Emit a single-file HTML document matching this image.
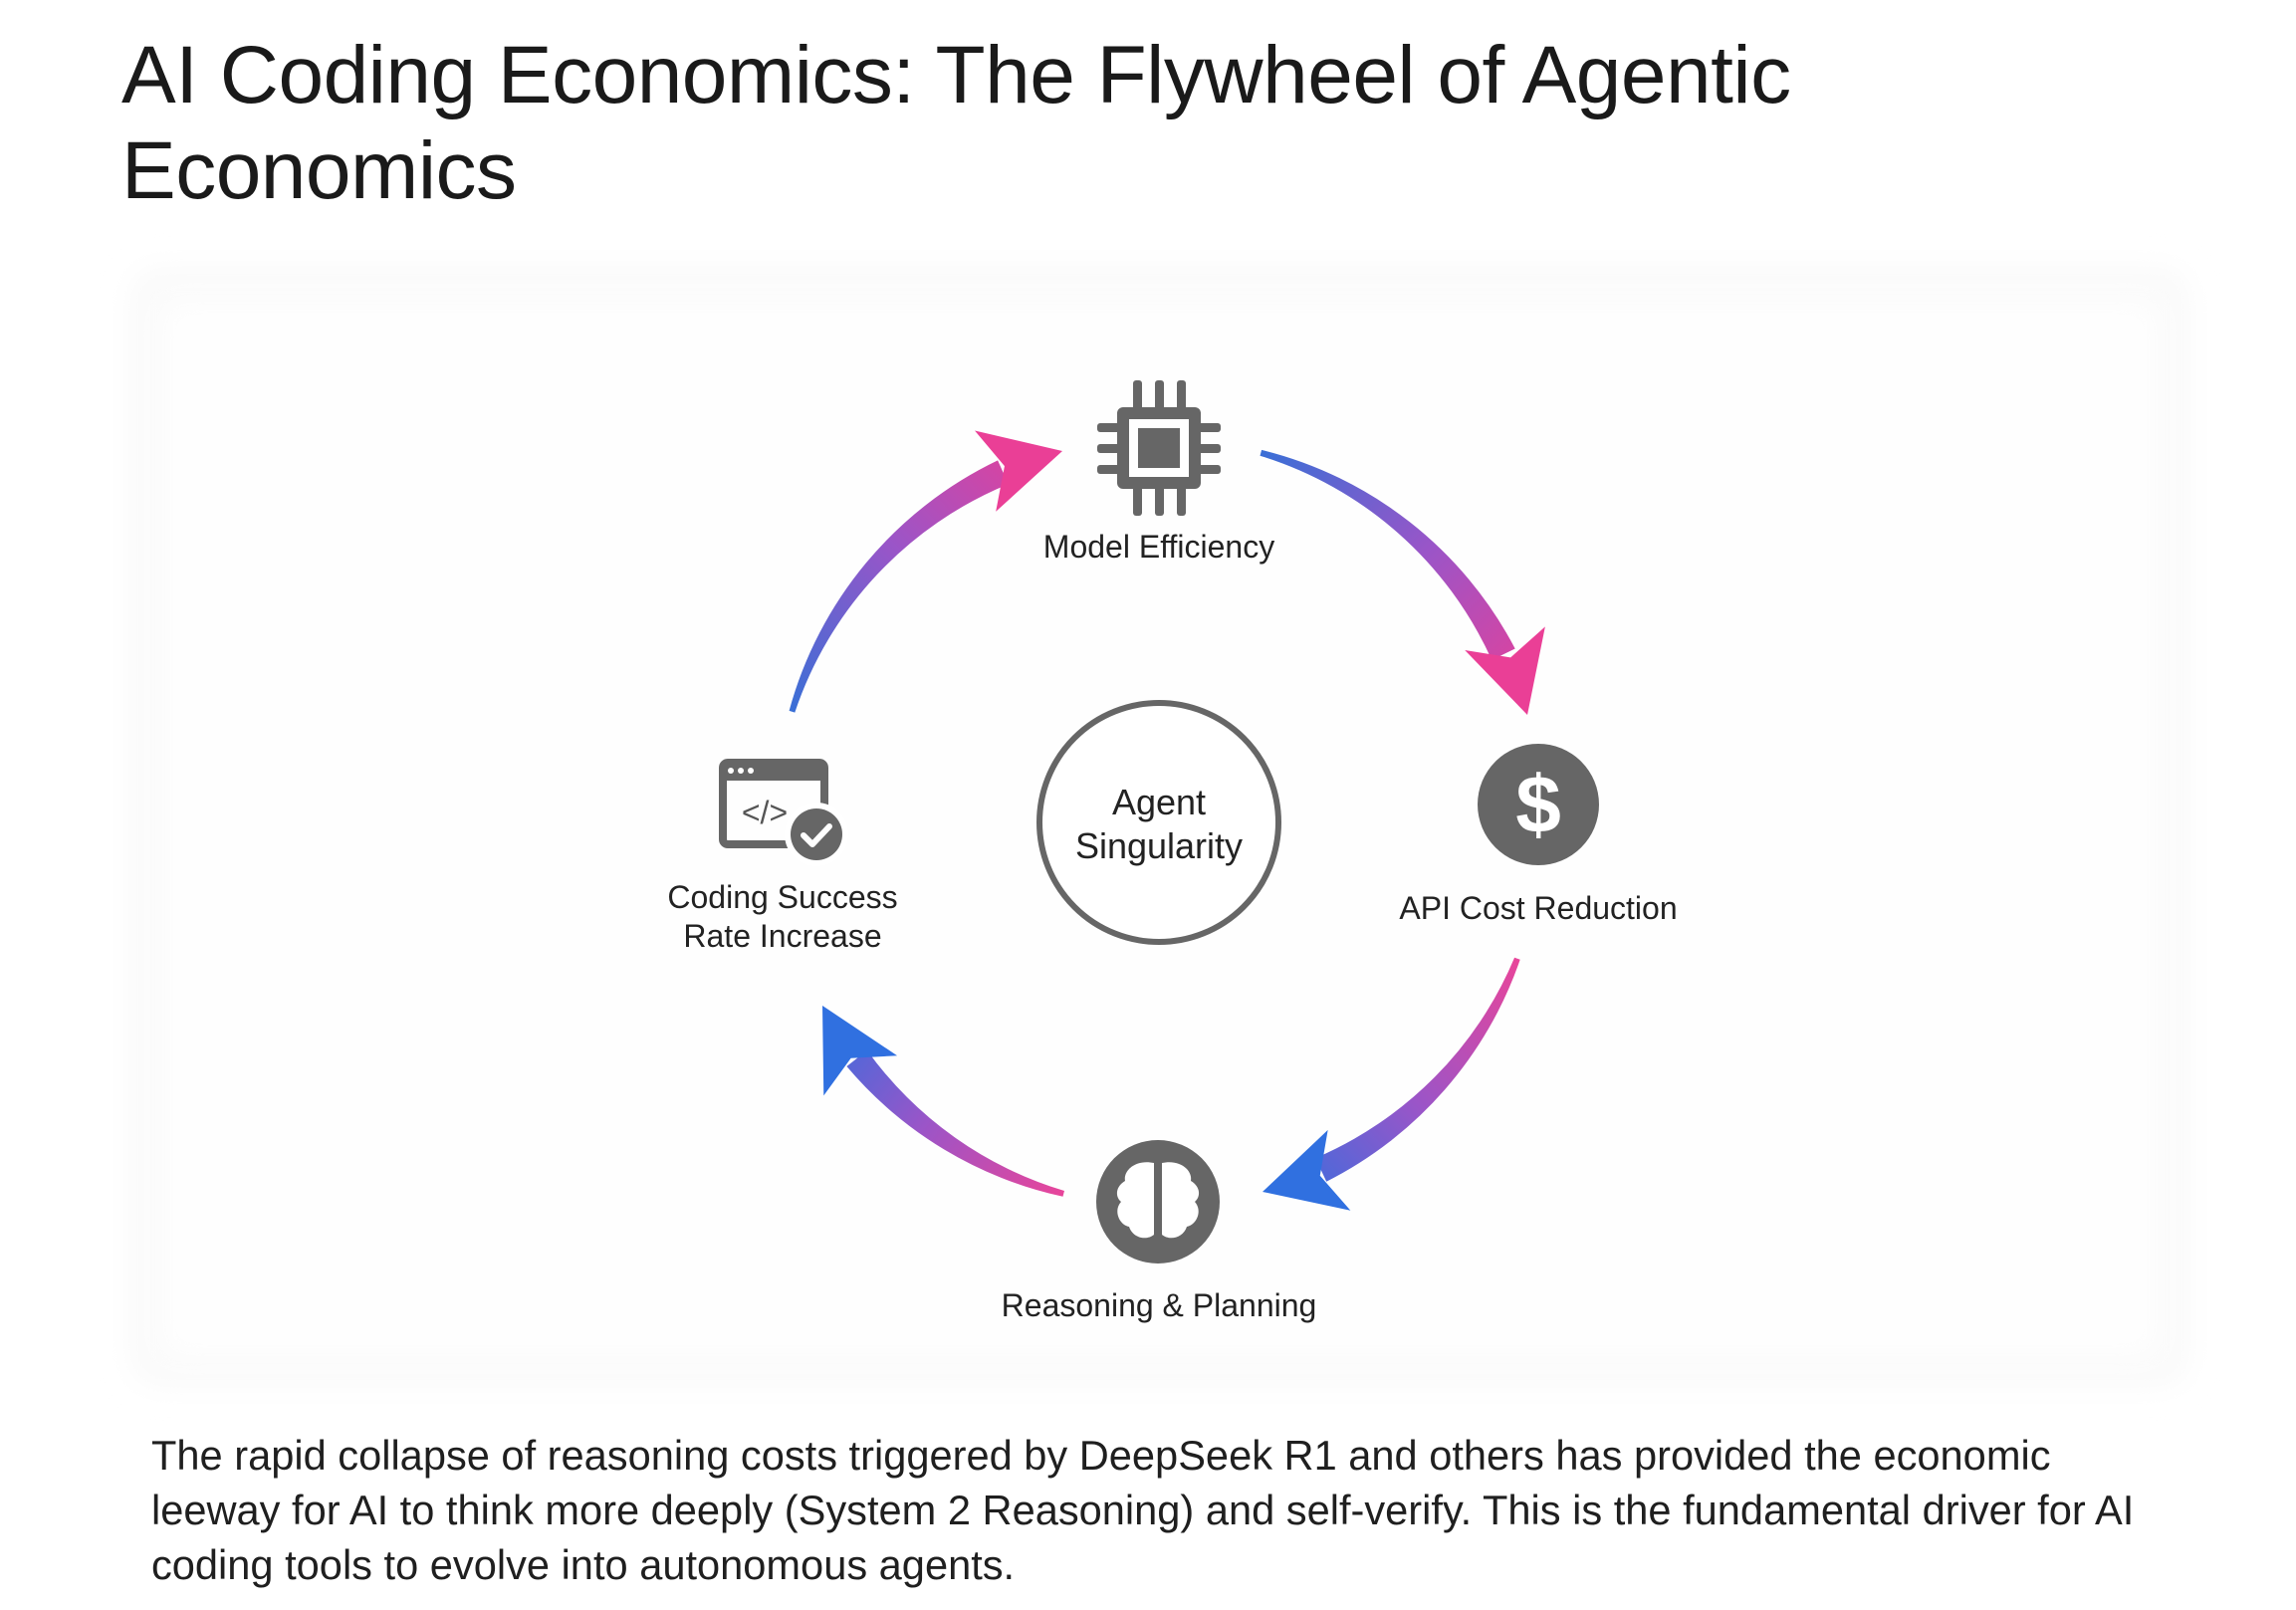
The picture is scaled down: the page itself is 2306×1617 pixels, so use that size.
<!DOCTYPE html>
<html><head><meta charset="utf-8"><style>
html,body{margin:0;padding:0;background:#fff;}
body{width:2306px;height:1617px;position:relative;overflow:hidden;font-family:"Liberation Sans",sans-serif;color:#1f1f1f;}
.title{position:absolute;left:122px;top:28px;font-size:82px;line-height:96px;letter-spacing:-0.5px;color:#1a1a1a;}
.para{position:absolute;left:152px;top:1434px;font-size:41.6px;line-height:55px;color:#1f1f1f;}
svg{position:absolute;left:0;top:0;}
</style></head><body>
<div class="title">AI Coding Economics: The Flywheel of Agentic<br>Economics</div>
<svg width="2306" height="1617" viewBox="0 0 2306 1617">
<defs>
<filter id="bl"><feGaussianBlur stdDeviation="14"/></filter>
<linearGradient id="g1" gradientUnits="userSpaceOnUse" x1="796" y1="715" x2="1067" y2="453"><stop offset="0" stop-color="#3a6fd6"/><stop offset="0.5" stop-color="#9a55c8"/><stop offset="1" stop-color="#ea3f96"/></linearGradient>
<linearGradient id="g2" gradientUnits="userSpaceOnUse" x1="1266" y1="455" x2="1534" y2="718"><stop offset="0" stop-color="#3a6fd6"/><stop offset="0.5" stop-color="#9a55c8"/><stop offset="1" stop-color="#ea3f96"/></linearGradient>
<linearGradient id="g3" gradientUnits="userSpaceOnUse" x1="1524" y1="963" x2="1268" y2="1197"><stop offset="0" stop-color="#e8459a"/><stop offset="0.5" stop-color="#9a55c8"/><stop offset="1" stop-color="#3070e0"/></linearGradient>
<linearGradient id="g4" gradientUnits="userSpaceOnUse" x1="1068" y1="1199" x2="826" y2="1010"><stop offset="0" stop-color="#e8459a"/><stop offset="0.5" stop-color="#9a55c8"/><stop offset="1" stop-color="#3070e0"/></linearGradient>
</defs>
<rect x="130" y="268" width="2070" height="1125" rx="30" fill="#fafafa" filter="url(#bl)"/>
<rect x="160" y="300" width="2010" height="1065" rx="20" fill="#fefefe" filter="url(#bl)"/>

<!-- tapered arcs -->
<path d="M792.6 713.9 A393 393 0 0 1 1002.1 462.4 L1012.7 486.2 A377 377 0 0 0 798.3 715.6 Z" fill="url(#g1)"/>
<path d="M1267.1 451.9 A393 393 0 0 1 1521.7 651.5 L1498.3 662.9 A377 377 0 0 0 1265.5 457.7 Z" fill="url(#g2)"/>
<path d="M1526.7 963.8 A393 393 0 0 1 1332.2 1186.7 L1321.2 1163.1 A377 377 0 0 0 1521.1 961.7 Z" fill="url(#g3)"/>
<path d="M1067.5 1201.8 A393 393 0 0 1 850.4 1071.0 L870.9 1055.0 A377 377 0 0 0 1069.0 1196.0 Z" fill="url(#g4)"/>
<polygon points="0,0 -80,-42 -60,0 -80,42" fill="#ea3f96" transform="translate(1067,453) rotate(-14.6)"/>
<polygon points="0,0 -80,-42 -60,0 -80,42" fill="#ea3f96" transform="translate(1534,718) rotate(73.7)"/>
<polygon points="0,0 -80,-42 -60,0 -80,42" fill="#3070e0" transform="translate(1268,1197) rotate(164.3)"/>
<polygon points="0,0 -80,-42 -60,0 -80,42" fill="#3070e0" transform="translate(826,1010) rotate(241.5)"/>

<!-- center circle -->
<circle cx="1164" cy="826" r="120" fill="#fff" stroke="#666" stroke-width="6"/>
<text x="1164" y="818" font-size="36" text-anchor="middle" fill="#222">Agent</text>
<text x="1164" y="862" font-size="36" text-anchor="middle" fill="#222">Singularity</text>

<!-- chip -->
<g fill="#666">
<rect x="1122" y="409" width="84" height="82" rx="6"/>
<rect x="1138" y="382" width="9" height="30" rx="3"/><rect x="1160" y="382" width="9" height="30" rx="3"/><rect x="1182" y="382" width="9" height="30" rx="3"/>
<rect x="1138" y="488" width="9" height="30" rx="3"/><rect x="1160" y="488" width="9" height="30" rx="3"/><rect x="1182" y="488" width="9" height="30" rx="3"/>
<rect x="1102" y="425" width="24" height="9" rx="3"/><rect x="1102" y="446" width="24" height="9" rx="3"/><rect x="1102" y="467" width="24" height="9" rx="3"/>
<rect x="1202" y="425" width="24" height="9" rx="3"/><rect x="1202" y="446" width="24" height="9" rx="3"/><rect x="1202" y="467" width="24" height="9" rx="3"/>
</g>
<rect x="1134" y="421" width="60" height="58" fill="#fff"/>
<rect x="1143" y="430" width="42" height="40" fill="#666"/>
<text x="1164" y="560" font-size="32" text-anchor="middle" fill="#222">Model Efficiency</text>

<!-- dollar -->
<circle cx="1545" cy="808" r="61" fill="#666"/>
<text x="1545" y="836" font-size="82" font-weight="bold" text-anchor="middle" fill="#fff">$</text>
<text x="1545" y="923" font-size="32" text-anchor="middle" fill="#222">API Cost Reduction</text>

<!-- brain -->
<circle cx="1163" cy="1207" r="62" fill="#666"/>
<path d="M1159 1168 C1140 1164 1128 1176 1130 1186 C1120 1192 1120 1202 1126 1207 C1118 1216 1124 1230 1134 1232 C1138 1244 1152 1246 1159 1240 Z" fill="#fff"/>
<path d="M1167 1168 C1186 1164 1198 1176 1196 1186 C1206 1192 1206 1202 1200 1207 C1208 1216 1202 1230 1192 1232 C1188 1244 1174 1246 1167 1240 Z" fill="#fff"/>
<text x="1164" y="1322" font-size="32" text-anchor="middle" fill="#222">Reasoning &amp; Planning</text>

<!-- code icon -->
<rect x="726" y="766" width="102" height="82" rx="5" fill="none" stroke="#666" stroke-width="8"/>
<rect x="726" y="766" width="102" height="18" fill="#666"/>
<circle cx="734" cy="774" r="3" fill="#fff"/><circle cx="744" cy="774" r="3" fill="#fff"/><circle cx="754" cy="774" r="3" fill="#fff"/>
<text x="768" y="827" font-size="32" text-anchor="middle" fill="#555">&lt;/&gt;</text>
<circle cx="820" cy="838" r="32" fill="#fff"/>
<circle cx="820" cy="838" r="26" fill="#666"/>
<path d="M807 839 L816 848 L833 830" fill="none" stroke="#fff" stroke-width="6" stroke-linecap="round" stroke-linejoin="round"/>
<text x="786" y="912" font-size="32" text-anchor="middle" fill="#222">Coding Success</text>
<text x="786" y="951" font-size="32" text-anchor="middle" fill="#222">Rate Increase</text>
</svg>
<div class="para">The rapid collapse of reasoning costs triggered by DeepSeek R1 and others has provided the economic<br>leeway for AI to think more deeply (System 2 Reasoning) and self-verify. This is the fundamental driver for AI<br>coding tools to evolve into autonomous agents.</div>
</body></html>
